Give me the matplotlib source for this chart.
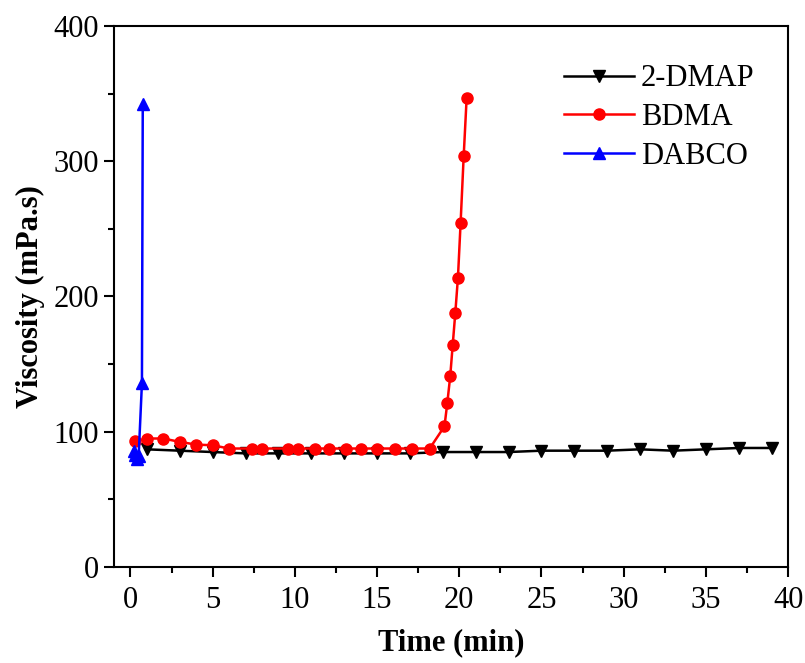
import matplotlib
matplotlib.use("Agg")
import matplotlib.pyplot as plt
from matplotlib.ticker import MultipleLocator

plt.rcParams['font.family'] = ['Liberation Serif', 'DejaVu Serif']

dmap_x = [1, 3, 5, 7, 9, 11, 13, 15, 17, 19, 21, 23, 25, 27, 29, 31, 33, 35, 37, 39]
dmap_y = [87, 86, 85, 84, 84, 84, 84, 84, 84, 85, 85, 85, 86, 86, 86, 87, 86, 87, 88, 88]

bdma_x = [0.3, 1, 2, 3, 4, 5, 6, 7.4, 8, 9.6, 10.2, 11.2, 12.1, 13.1, 14, 15, 16.1, 17.1, 18.2,
          19.1, 19.27, 19.45, 19.6, 19.76, 19.92, 20.08, 20.27, 20.45]
bdma_y = [93, 95, 95, 92.5, 90.5, 90, 87.6, 87.6, 87.6, 87.6, 87.6, 87.6, 87.6, 87.6, 87.6, 87.6, 87.6, 87.6, 87.6,
          104, 121, 141, 164, 188, 214, 254, 304, 347]

dabco_x = [0.2, 0.3, 0.4, 0.5, 0.7, 0.75]
dabco_y = [86, 83, 80, 82, 136, 342]

fig = plt.figure(figsize=(8.05, 6.63), dpi=100)
ax = fig.add_axes([0.1416, 0.1448, 0.979 - 0.1416, 0.9608 - 0.1448])

ax.plot(dmap_x, dmap_y, color='black', marker='v', markersize=8.5, linewidth=1.8, label='2-DMAP')
ax.plot(bdma_x, bdma_y, color='red', marker='o', markersize=8, linewidth=1.8, label='BDMA')
ax.plot(dabco_x, dabco_y, color='blue', marker='^', markersize=8.5, linewidth=1.8, label='DABCO')

ax.set_xlim(-1, 40)
ax.set_ylim(0, 400)
ax.xaxis.set_major_locator(MultipleLocator(5))
ax.xaxis.set_minor_locator(MultipleLocator(2.5))
ax.yaxis.set_major_locator(MultipleLocator(100))
ax.yaxis.set_minor_locator(MultipleLocator(50))
ax.tick_params(which='both', direction='out', top=False, right=False, labelsize=22, width=1.5)
ax.tick_params(which='major', length=7, pad=4)
ax.tick_params(axis='x', which='major', pad=7)
ax.tick_params(which='minor', length=4)
for s in ax.spines.values():
    s.set_linewidth(1.5)

ax.set_xlabel('Time (min)', fontsize=22, fontweight='bold', labelpad=9)
ax.set_ylabel('Viscosity (mPa.s)', fontsize=22, fontweight='bold', labelpad=6)

ax.legend(loc='upper right', frameon=False, fontsize=22, handlelength=2.3,
          bbox_to_anchor=(0.991, 0.98), labelspacing=0.32, handletextpad=0.22)

fig.savefig('out.png', dpi=100)
